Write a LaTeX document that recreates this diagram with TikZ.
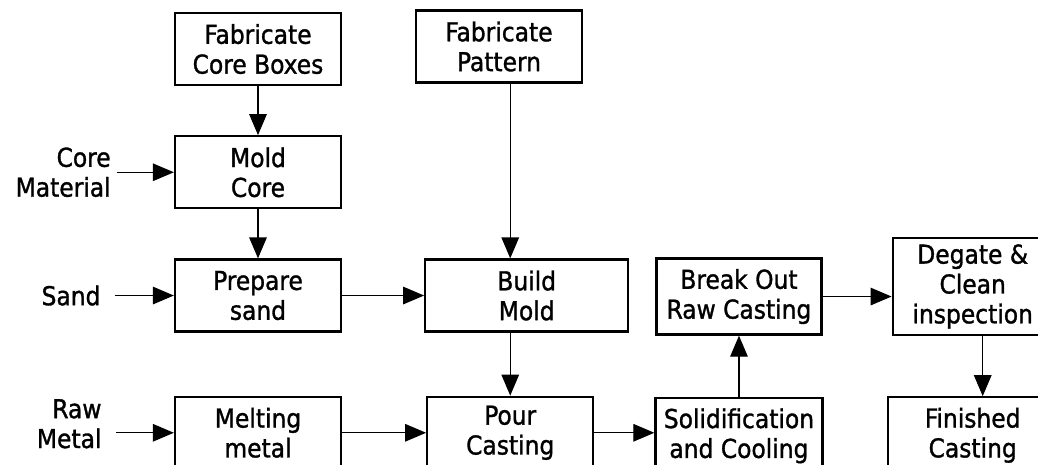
\documentclass[tikz,border=0pt]{standalone}
\usepackage{fontspec}
\setmainfont{DejaVu Sans Condensed}[FakeBold=1.2]
\usepackage{tikz}
\usetikzlibrary{arrows.meta,positioning}

\begin{document}
\begin{tikzpicture}[
        x=0.02cm, y=-0.02cm,
        node distance=1cm,
        every node/.style={font=\fontsize{14.8}{17}\selectfont},
        process/.style={rectangle, draw, line width=1.3pt, minimum width=3.32cm, minimum height=1.44cm, align=center, inner sep=2pt},
        source/.style={align=right},
        arrow/.style={-{Triangle[length=12pt,width=10pt]}, line width=0.8pt}
    ]
        \useasboundingbox (0,0) rectangle (1038,464);

        % Core line
        \node[process] (fcb) at (258,49) {Fabricate\\Core Boxes};
        \node[process, below=0.98cm of fcb] (mcore) {Mold\\Core};
        \node[process, below=0.98cm of mcore] (psand) {Prepare\\sand};
        \node[process, below=1.26cm of psand] (melt) {Melting\\metal};

        % Inputs
        \node[source, left=1.14cm of mcore] (cmat) {Core\\Material};
        \node[source, left=1.18cm of psand, inner xsep=8pt] (sand) {Sand};
        \node[source, left=1.16cm of melt, yshift=0.18cm, inner xsep=8pt] (rawm) {Raw\\Metal};

        % Mold and casting
        \node[process] (fpat) at (499,46.5) {Fabricate\\Pattern};
        \node[process, right=1.64cm of psand, minimum width=4.06cm] (bmold) {Build\\Mold};
        \node[process, right=1.68cm of melt] (pour) {Pour\\Casting};
        \node[process, right=1.2cm of pour, minimum height=1.52cm, minimum width=3.34cm, yshift=-0.06cm] (solid) {Solidification\\and Cooling};
        \node[process, above=1.22cm of solid, minimum width=3.3cm, minimum height=1.52cm] (break) {Break Out\\Raw Casting};

        % Finishing
        \node[process, right=1.38cm of break, yshift=0.2cm, minimum width=3.2cm, minimum height=1.94cm] (degate) {Degate \&\\Clean\\inspection};
        \node[process, below=1.2cm of degate, minimum width=3.4cm, minimum height=1.52cm] (fin) {Finished\\Casting};

        % Connections
        \draw[arrow] (fcb) -- (mcore);
        \draw[arrow] (mcore) -- (psand);
        \draw[arrow] (cmat) -- (mcore);
        \draw[arrow] (sand) -- (psand);
        \draw[arrow] (rawm.east |- melt.west) -- (melt.west);
        \draw[arrow] (psand.east) -- (psand.east -| bmold.west);
        \draw[arrow] (melt) -- (pour);
        \draw[arrow] (fpat.south -| pour) -- (bmold.north -| pour);
        \draw[arrow] (bmold.south -| pour) -- (pour);
        \draw[arrow] (pour.east) -- (pour.east -| solid.west);
        \draw[arrow] (solid.north) -- (solid.north |- break.south);
        \draw[arrow] (break.east) -- (break.east -| degate.west);
        \draw[arrow] ([xshift=0.2cm]degate.south) -- ([xshift=0.2cm]degate.south |- fin.north);

    \end{tikzpicture}
\end{document}
